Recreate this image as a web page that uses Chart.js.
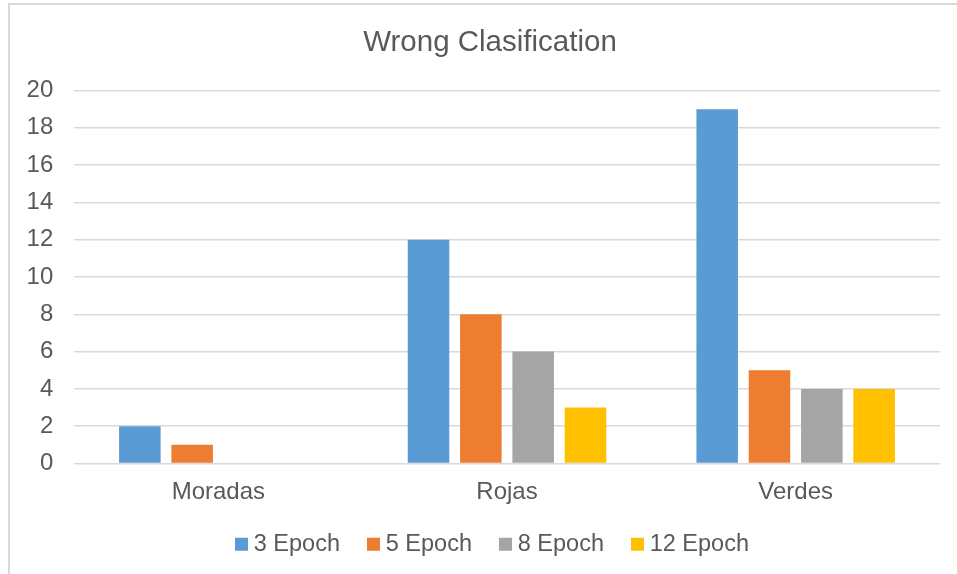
<!DOCTYPE html>
<html>
<head>
<meta charset="utf-8">
<title>Wrong Clasification</title>
<script src="https://cdn.jsdelivr.net/npm/chart.js@4/dist/chart.umd.min.js"></script>
<style>
  html, body { margin: 0; padding: 0; background: #ffffff; overflow: hidden; }
  #wrap { position: relative; width: 957px; height: 574px; }
  #frame {
    position: absolute; left: 8px; top: 3px; width: 1000px; height: 700px;
    border: 2px solid #d9d9d9; box-sizing: border-box; pointer-events: none;
  }
  canvas { position: absolute; left: 0; top: 0; }
</style>
</head>
<body>
<div id="wrap">
  <canvas id="chart" width="957" height="574"></canvas>
  <div id="frame"></div>
</div>
<script>
// Categories and series
const categories = ['Moradas', 'Rojas', 'Verdes'];
const seriesNames = ['3 Epoch', '5 Epoch', '8 Epoch', '12 Epoch'];
const epoch3 = [2, 12, 19];
const epoch5 = [1, 8, 5];
const epoch8 = [0, 6, 4];
const epoch12 = [0, 3, 4];
const seriesColors = ['#5B9BD5', '#ED7D31', '#A5A5A5', '#FFC000'];
const yTicks = { min: 0, max: 20, step: 2 };

const FONT = "'Liberation Sans', Arial, sans-serif";
const TEXT = '#595959';
const GRID = '#d9d9d9';

const seriesValues = [epoch3, epoch5, epoch8, epoch12];

// Title and legend are centred on a span that starts right of the axis labels,
// and the legend sits a little closer to the category labels.
const boxPlacement = {
  id: 'boxPlacement',
  afterLayout(chart) {
    const t = chart.titleBlock;
    if (t) { t.left = 40; t.right = 940; t.width = t.right - t.left; }
    const lg = chart.legend;
    if (lg) {
      const h = lg.bottom - lg.top;
      lg.left = 50; lg.right = 940; lg.width = lg.right - lg.left;
      lg.top = 499.5; lg.bottom = lg.top + h;
    }
  }
};

new Chart(document.getElementById('chart'), {
  type: 'bar',
  data: {
    labels: categories,
    datasets: seriesNames.map((name, i) => ({
      label: name,
      data: seriesValues[i],
      backgroundColor: seriesColors[i],
      borderWidth: 0,
      categoryPercentage: 0.725,
      barPercentage: 0.794
    }))
  },
  options: {
    responsive: false,
    animation: false,
    layout: { padding: { left: 9, right: 17, top: 0, bottom: 0 } },
    plugins: {
      title: {
        display: true,
        text: 'Wrong Clasification',
        color: TEXT,
        font: { family: FONT, size: 29.5, weight: 'normal', lineHeight: 1.2 },
        padding: { top: 25.5, bottom: 29.6 }
      },
      legend: {
        position: 'bottom',
        labels: {
          color: TEXT,
          font: { family: FONT, size: 23.5, lineHeight: 1.2 },
          usePointStyle: true,
          pointStyle: 'rect',
          boxWidth: 1,
          boxHeight: 13,
          padding: 33
        }
      },
      tooltip: { enabled: false }
    },
    scales: {
      x: {
        grid: { display: false, drawTicks: false },
        border: { display: false },
        ticks: {
          color: TEXT,
          font: { family: FONT, size: 24, lineHeight: 1.2 },
          padding: 14.6
        },
        afterFit: (scale) => { scale.height = 44; }
      },
      y: {
        min: yTicks.min,
        max: yTicks.max,
        grid: { color: GRID, lineWidth: 1.5, drawTicks: false },
        border: { display: false },
        ticks: {
          stepSize: yTicks.step,
          color: TEXT,
          font: { family: FONT, size: 24, lineHeight: 1.2 },
          padding: 20.7
        },
        afterFit: (scale) => { scale.width = 65; }
      }
    }
  },
  plugins: [boxPlacement]
});
</script>
</body>
</html>
